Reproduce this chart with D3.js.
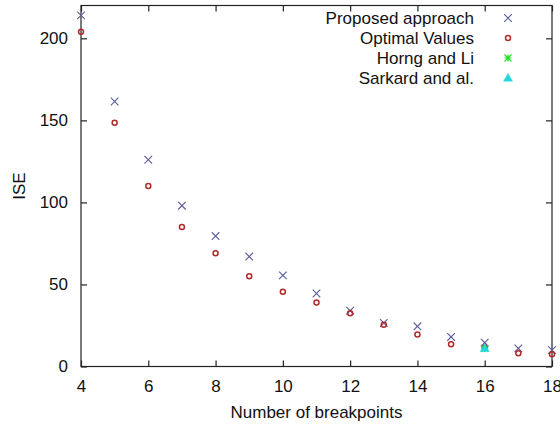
<!DOCTYPE html>
<html>
<head>
<meta charset="utf-8">
<script src="https://cdn.jsdelivr.net/npm/d3@7/dist/d3.min.js"></script>
<style>
  html, body { margin: 0; padding: 0; background: #fff; }
  svg { display: block; font-family: "Liberation Sans", Arial, sans-serif; }
</style>
</head>
<body>
<svg id="chart" width="560" height="425"></svg>
<script>
// Integrated squared error against number of breakpoints
const breakpoints = [4, 5, 6, 7, 8, 9, 10, 11, 12, 13, 14, 15, 16, 17, 18];
const proposed = [214, 161.5, 126, 98, 79.5, 67, 55.5, 44.5, 34, 26.5, 24.5, 18, 14.5, 11, 10];
const optimal = [204, 148.5, 110, 85, 69, 55, 45.5, 39, 32.5, 25.5, 19.5, 13.5, 11.5, 8, 7.5];
const horngX = [16], horngY = [11];
const sarkardX = [16], sarkardY = [11];

const xTicks = [4, 6, 8, 10, 12, 14, 16, 18];
const yTicks = [0, 50, 100, 150, 200];
const legendNames = ["Proposed approach", "Optimal Values", "Horng and Li", "Sarkard and al."];

const svg = d3.select("#chart");
const m = { left: 81, right: 8, top: 5.5, bottom: 58.5 };
const W = 560, H = 425;

const x = d3.scaleLinear().domain([4, 18]).range([m.left, W - m.right]);
const y = d3.scaleLinear().domain([0, 220]).range([H - m.bottom, m.top]);

const axisColor = "#222";
const fontSize = "17px";

// frame
svg.append("rect")
  .attr("x", x(4)).attr("y", y(220))
  .attr("width", x(18) - x(4)).attr("height", y(0) - y(220))
  .attr("fill", "none").attr("stroke", axisColor).attr("stroke-width", 1.2);

// axes with inward ticks, mirrored on opposite sides
function styleAxis(g) {
  g.select(".domain").remove();
  g.selectAll("line").attr("stroke", axisColor).attr("stroke-width", 1.2);
  g.selectAll("text").attr("fill", "#111").style("font-size", fontSize)
    .style("font-family", "'Liberation Sans', Arial, sans-serif");
}
svg.append("g").attr("transform", `translate(0,${y(0)})`)
  .call(d3.axisBottom(x).tickValues(xTicks).tickSize(-6).tickPadding(13).tickFormat(d3.format("d")))
  .call(styleAxis);
svg.append("g").attr("transform", `translate(0,${y(220)})`)
  .call(d3.axisTop(x).tickValues(xTicks).tickSize(-6).tickFormat(""))
  .call(styleAxis);
svg.append("g").attr("transform", `translate(${x(4)},0)`)
  .call(d3.axisLeft(y).tickValues(yTicks).tickSize(-6).tickPadding(13).tickFormat(d3.format("d")))
  .call(styleAxis);
svg.append("g").attr("transform", `translate(${x(18)},0)`)
  .call(d3.axisRight(y).tickValues(yTicks).tickSize(-6).tickFormat(""))
  .call(styleAxis);

// axis titles
svg.append("text")
  .attr("x", (x(4) + x(18)) / 2).attr("y", 418)
  .attr("text-anchor", "middle").style("font-size", fontSize).attr("fill", "#111")
  .text("Number of breakpoints");
svg.append("text")
  .attr("transform", `translate(25,${(y(0) + y(220)) / 2}) rotate(-90)`)
  .attr("text-anchor", "middle").style("font-size", fontSize).attr("fill", "#111")
  .text("ISE");

// marker painters
const colProposed = "#5c5c9c", colOptimal = "#b22a2a", colHorng = "#22dd22", colSarkard = "#22d8dc";
function cross(g, cx, cy) {
  const s = 3.8;
  g.append("path").attr("d", `M${cx - s},${cy - s}L${cx + s},${cy + s}M${cx - s},${cy + s}L${cx + s},${cy - s}`)
    .attr("stroke", colProposed).attr("stroke-width", 1.1).attr("fill", "none");
}
function circle(g, cx, cy) {
  g.append("circle").attr("cx", cx).attr("cy", cy).attr("r", 2.5)
    .attr("fill", "none").attr("stroke", colOptimal).attr("stroke-width", 1.5);
}
function star(g, cx, cy) {
  const s = 3.5;
  g.append("path").attr("d",
    `M${cx - s},${cy - s}L${cx + s},${cy + s}M${cx - s},${cy + s}L${cx + s},${cy - s}M${cx - s},${cy}L${cx + s},${cy}M${cx},${cy - s}L${cx},${cy + s}`)
    .attr("stroke", colHorng).attr("stroke-width", 1.2).attr("fill", "none");
}
function triangle(g, cx, cy) {
  const s = 4.5;
  g.append("path").attr("d", `M${cx},${cy - s}L${cx + s},${cy + s * 0.7}L${cx - s},${cy + s * 0.7}Z`)
    .attr("fill", colSarkard).attr("stroke", colSarkard).attr("stroke-width", 0.5);
}

const pts = svg.append("g");
breakpoints.forEach((b, i) => cross(pts, x(b), y(proposed[i])));
breakpoints.forEach((b, i) => circle(pts, x(b), y(optimal[i])));
horngX.forEach((b, i) => star(pts, x(b), y(horngY[i])));
sarkardX.forEach((b, i) => triangle(pts, x(b), y(sarkardY[i])));

// legend
const painters = [cross, circle, star, triangle];
const leg = svg.append("g");
legendNames.forEach((name, i) => {
  const ry = 18 + i * 20;
  leg.append("text").attr("x", 474).attr("y", ry + 6)
    .attr("text-anchor", "end").style("font-size", fontSize).attr("fill", "#111").text(name);
  painters[i](leg, 508, ry);
});
</script>
</body>
</html>
